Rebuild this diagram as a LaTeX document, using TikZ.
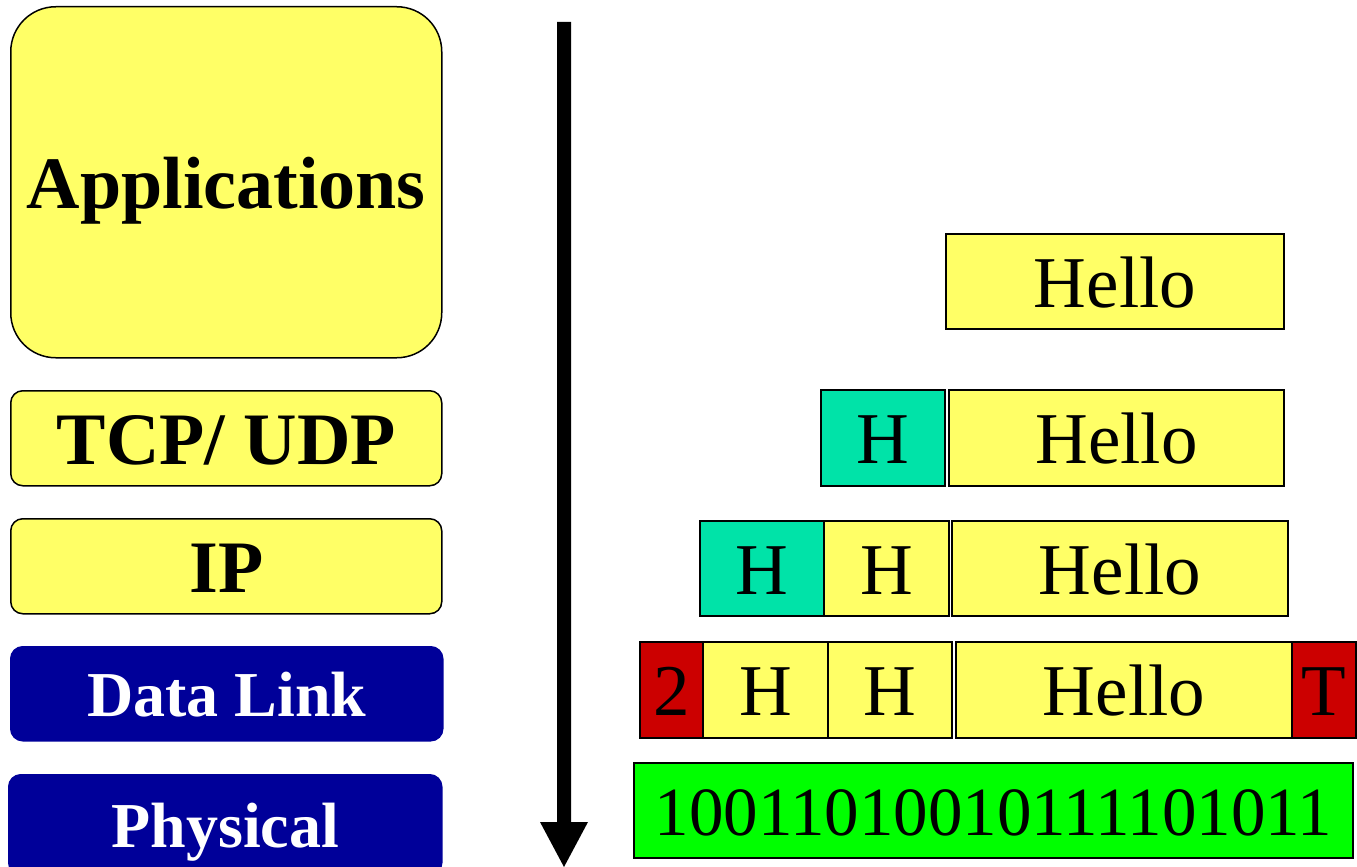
\documentclass[tikz,border=0pt]{standalone}
\usepackage{fontspec}
\setmainfont{Liberation Serif}
\definecolor{lyel}{RGB}{255,255,102}
\definecolor{lteal}{RGB}{0,227,168}
\definecolor{lred}{RGB}{204,0,0}
\definecolor{lgreen}{RGB}{0,255,0}
\definecolor{lnavy}{RGB}{0,0,153}
\tikzset{
  layer/.style={draw=black, line width=1.5pt, fill=lyel, rounded corners=12pt, inner sep=0pt, anchor=north west,
    font=\fontsize{74}{80}\selectfont\bfseries, text height=53pt, text depth=0pt},
  dlayer/.style={layer, draw=lnavy, fill=lnavy, text=white, font=\fontsize{64}{70}\selectfont\bfseries, text height=45pt},
  cell/.style={draw=black, line width=2pt, fill=lyel, inner sep=0pt, anchor=north west,
    font=\fontsize{73}{80}\selectfont, text height=51pt, text depth=0pt},
}
\newcommand{\cellnode}[6]{% name, style extras, x1,y1,x2,y2 ... text given after
  \node[cell,#2,minimum width={#5-#3}, minimum height={#6-#4}] (#1) at (#3,#4)}
\begin{document}
\begin{tikzpicture}[x=1pt,y=-1pt]
\useasboundingbox (0,0) rectangle (1357,867);
% layers
\node[layer, rounded corners=45pt, minimum width=431, minimum height=351] (app) at (10,6) {Applications};
\node[layer, minimum width=431, minimum height=95] (tcp) at (10,390) {TCP/ UDP};
\node[layer, minimum width=431, minimum height=95] (ip) at (10,518) {IP};
\node[dlayer, minimum width=432, minimum height=94] (dl) at (10,646) {Data Link};
\node[dlayer, minimum width=433, minimum height=100] (phy) at (8,774) {Physical};
% arrow
\coordinate (atop) at (564,22);
\coordinate (atip) at (564,867);
\fill[black] (557,22) -- (571,22) -- (571,822) -- (588,822) -- (atip) -- (540,822) -- (557,822) -- cycle;
% row 1
\cellnode{h1}{}{945}{233}{1283}{328} {Hello};
% row 2
\cellnode{t2}{fill=lteal}{820}{389}{944}{485} {H};
\cellnode{h2}{}{948}{389}{1283}{485} {Hello};
% row 3
\cellnode{t3}{fill=lteal}{699}{520}{823}{615} {H};
\cellnode{y3}{}{823}{520}{948}{615} {H};
\cellnode{h3}{}{951}{520}{1287}{615} {Hello};
% row 4
\cellnode{r4}{fill=lred}{639}{641}{702}{737} {2};
\cellnode{ya4}{}{702}{641}{827}{737} {H};
\cellnode{yb4}{}{827}{641}{951}{737} {H};
\cellnode{h4}{}{955}{641}{1291}{737} {Hello};
\cellnode{t4}{fill=lred}{1291}{641}{1355}{737} {T};
% row 5
\cellnode{bits}{fill=lgreen, font=\fontsize{69}{75}\selectfont, text height=49pt}{633}{762}{1352}{857} {10011010010111101011};
\end{tikzpicture}
\end{document}
